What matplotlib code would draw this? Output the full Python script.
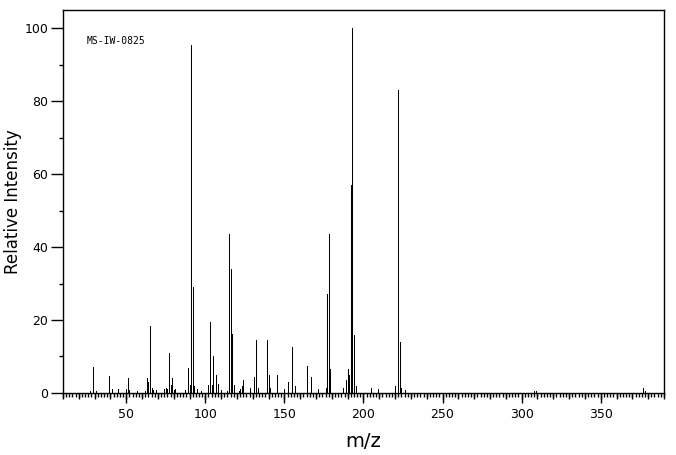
import numpy as np
import matplotlib
matplotlib.use("Agg")
import matplotlib.pyplot as plt
from matplotlib.ticker import MultipleLocator, NullFormatter

# peak list (m/z, relative intensity)
mz = [27, 29, 31, 39, 41, 45, 50, 51, 52, 57, 62, 63, 64, 65, 66, 67, 69,
      74, 75, 76, 77, 78, 79, 80, 81, 87, 89, 90, 91, 92, 93, 95, 97,
      102, 103, 104, 105, 107, 108, 110, 114, 115, 116, 117, 118, 121, 122,
      123, 124, 128, 131, 132, 133, 139, 140, 141, 145, 150, 152, 155, 157,
      164, 167, 171, 176, 177, 178, 179, 187, 189, 190, 191, 192, 193, 194,
      195, 205, 209, 220, 222, 223, 224, 226, 308, 309, 377, 378]
intensity = [0.5, 7.2, 0.5, 4.6, 1.2, 1.0, 1.0, 4.1, 0.8, 0.5, 0.6, 4.1, 3.1,
             18.3, 1.5, 0.8, 0.8, 1.0, 1.5, 1.0, 11.0, 2.3, 4.2, 0.8, 1.2, 0.8,
             6.8, 2.2, 95.5, 29.0, 2.0, 1.0, 0.6, 2.2, 19.4, 2.2, 10.1, 4.8,
             2.5, 0.7, 0.6, 43.5, 34.0, 16.1, 2.2, 0.6, 1.2, 1.8, 3.5, 1.4,
             4.5, 14.4, 1.4, 14.4, 4.8, 1.3, 4.8, 1.0, 3.0, 12.5, 2.0, 7.5,
             4.5, 1.0, 1.5, 27.0, 43.5, 6.5, 1.5, 3.5, 6.5, 5.0, 57.0, 100.0,
             16.0, 2.0, 1.5, 1.0, 2.0, 83.0, 14.0, 1.4, 0.8, 0.5, 0.5, 1.5, 0.6]

x_ticks = [50, 100, 150, 200, 250, 300, 350]
y_ticks = [0, 20, 40, 60, 80, 100]
spectrum_id = "MS-IW-0825"

fig = plt.figure(figsize=(6.76, 4.55), dpi=100)
ax = fig.add_axes([0.0932, 0.1363, 0.889, 0.842])

ax.vlines(mz, 0, intensity, colors="black", linewidth=0.72, antialiased=False)

ax.set_xlim(10, 390)
ax.set_ylim(0, 105)

ax.set_xticks(x_ticks)
ax.xaxis.set_minor_locator(MultipleLocator(2))
ax.set_yticks(y_ticks)
ax.yaxis.set_minor_locator(MultipleLocator(10))
ax.tick_params(axis="x", which="major", direction="out", length=7.2, width=1,
               labelsize=9, pad=3.5)
ax.tick_params(axis="x", which="minor", direction="out", length=2.9, width=1)
ax.tick_params(axis="y", which="major", direction="out", length=8.6, width=1,
               labelsize=9, pad=2)
ax.tick_params(axis="y", which="minor", direction="out", length=3, width=1)

# medium ticks every 10 along the bottom
sec = ax.secondary_xaxis("bottom")
sec.set_xticks(np.arange(10, 391, 10))
sec.xaxis.set_major_formatter(NullFormatter())
sec.tick_params(direction="out", length=4.3, width=1)
sec.spines["bottom"].set_visible(False)

for s in ax.spines.values():
    s.set_linewidth(1)

ax.set_xlabel("m/z", fontsize=14, labelpad=8)
ax.set_ylabel("Relative Intensity", fontsize=12, labelpad=2)

ax.text(0.04, 0.919, spectrum_id, transform=ax.transAxes, fontsize=7,
        family="DejaVu Sans Mono", va="center", ha="left")

fig.savefig("out.png", dpi=100)
